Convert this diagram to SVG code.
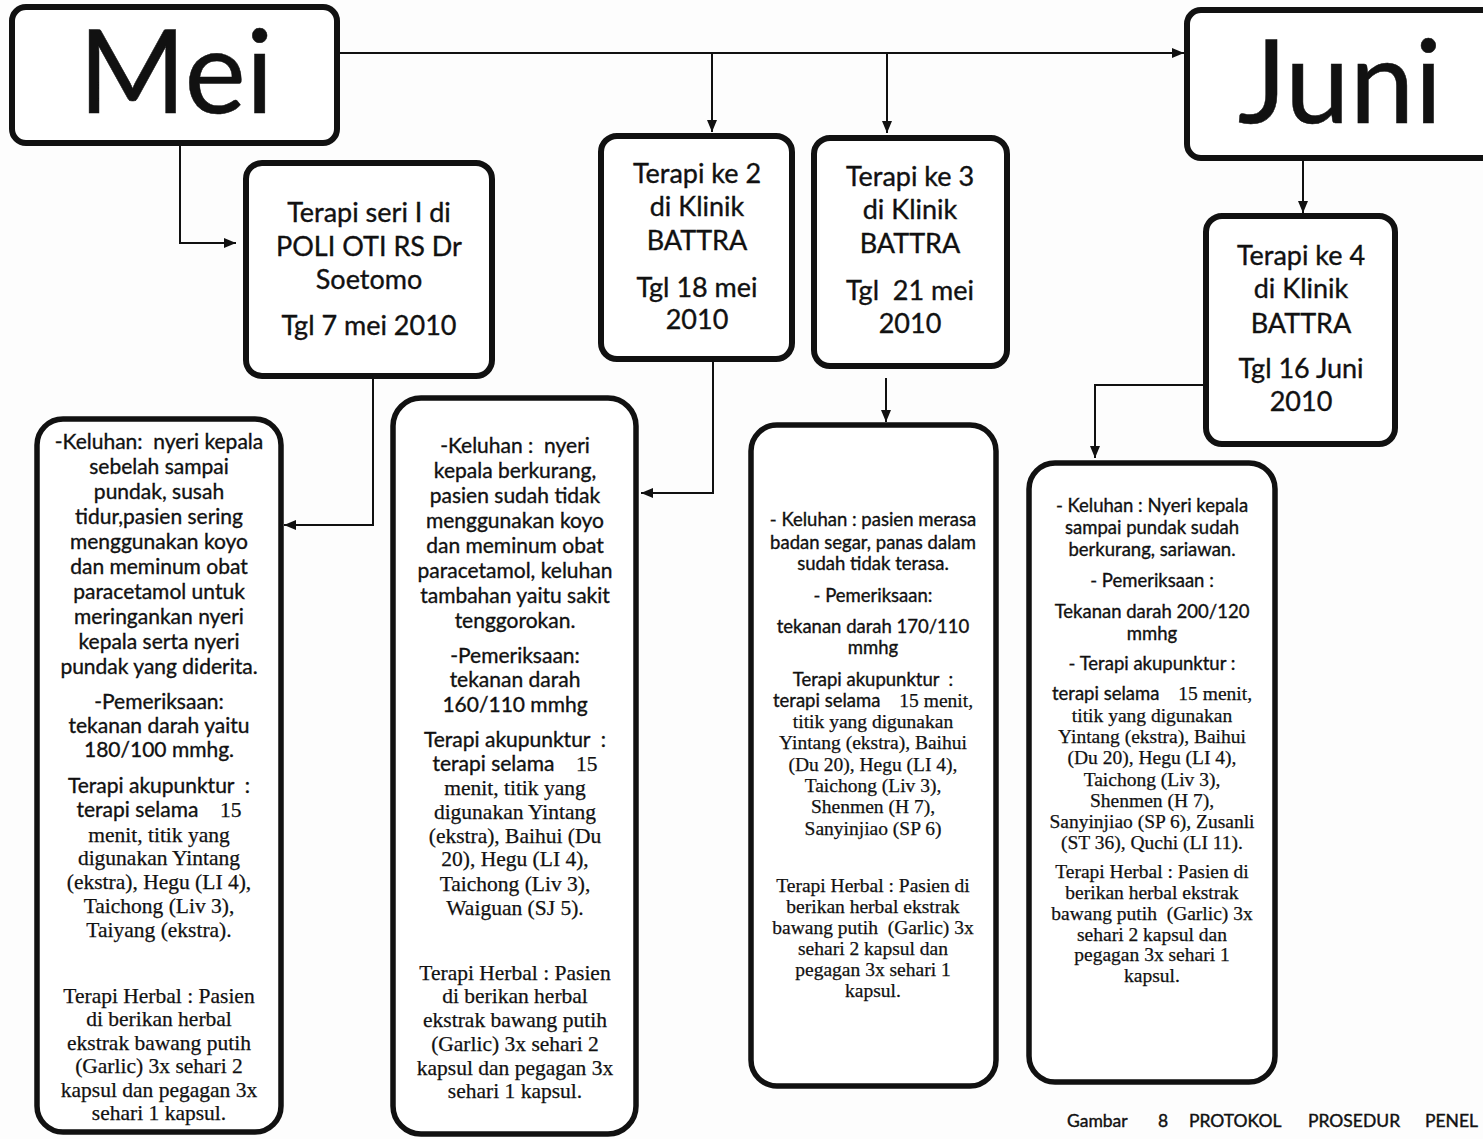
<svg xmlns="http://www.w3.org/2000/svg" width="1483" height="1139" viewBox="0 0 1483 1139">
<style>
.bg{fill:#fdfdfd}
.hbox{fill:#fff;stroke:#111;stroke-width:6}
.dbox{fill:#fff;stroke:#111;stroke-width:5.5}
.conn{fill:none;stroke:#111;stroke-width:2}
.s{font-family:Lato,"Liberation Sans",sans-serif;fill:#111;text-anchor:middle;white-space:pre;stroke:#111;stroke-width:0.35}
.r{font-family:"Liberation Serif",serif;fill:#111;text-anchor:middle;white-space:pre;stroke:#111;stroke-width:0.25}
.big{font-size:116px;stroke-width:0.5}
.h{font-size:27px}
.d1{font-size:21px}
.t1{font-size:21.5px}
.d3{font-size:18.5px}
.t3{font-size:19.5px}
.cap{font-family:Lato,"Liberation Sans",sans-serif;font-size:17.5px;fill:#111;stroke:#111;stroke-width:0.4}
</style>
<defs>
<marker id="ah" viewBox="0 0 12 10" refX="12" refY="5" markerWidth="12" markerHeight="10" markerUnits="userSpaceOnUse" orient="auto">
<path d="M0,0 L12,5 L0,10 z" fill="#111"/>
</marker>
</defs>
<rect class="bg" x="0" y="0" width="1483" height="1139"/>

<g id="connectors">
<path class="conn" d="M337,53 H1184" marker-end="url(#ah)"/>
<path class="conn" d="M712,53 V132" marker-end="url(#ah)"/>
<path class="conn" d="M887,53 V133" marker-end="url(#ah)"/>
<path class="conn" d="M180,143 V243 H236" marker-end="url(#ah)"/>
<path class="conn" d="M373,377 V525 H284" marker-end="url(#ah)"/>
<path class="conn" d="M713,360 V493 H641" marker-end="url(#ah)"/>
<path class="conn" d="M886,378 V422" marker-end="url(#ah)"/>
<path class="conn" d="M1303,158 V213" marker-end="url(#ah)"/>
<path class="conn" d="M1206,385 H1095 V458" marker-end="url(#ah)"/>
</g>

<g id="mei">
<rect class="hbox" x="12" y="7" width="325" height="136" rx="14"/>
<text class="s big" x="176" y="113">Mei</text>
</g>

<g id="juni">
<rect class="hbox" x="1187" y="10" width="320" height="148" rx="14"/>
<text class="s big" x="1340" y="123">Juni</text>
</g>

<g id="terapi1">
<rect class="hbox" x="246" y="163" width="246" height="213" rx="16"/>
<text class="s h"><tspan x="369" y="222">Terapi seri I di</tspan><tspan x="369" y="256">POLI OTI RS Dr</tspan><tspan x="369" y="289">Soetomo</tspan><tspan x="369" y="335">Tgl 7 mei 2010</tspan></text>
</g>

<g id="terapi2">
<rect class="hbox" x="601" y="136" width="191" height="223" rx="16"/>
<text class="s h"><tspan x="697" y="183">Terapi ke 2</tspan><tspan x="697" y="216">di Klinik</tspan><tspan x="697" y="250">BATTRA</tspan><tspan x="697" y="297">Tgl 18 mei</tspan><tspan x="697" y="329">2010</tspan></text>
</g>

<g id="terapi3">
<rect class="hbox" x="814" y="138" width="193" height="228" rx="16"/>
<text class="s h"><tspan x="910" y="186">Terapi ke 3</tspan><tspan x="910" y="219">di Klinik</tspan><tspan x="910" y="253">BATTRA</tspan><tspan x="910" y="300">Tgl  21 mei</tspan><tspan x="910" y="333">2010</tspan></text>
</g>

<g id="terapi4">
<rect class="hbox" x="1206" y="216" width="189" height="228" rx="16"/>
<text class="s h"><tspan x="1301" y="265">Terapi ke 4</tspan><tspan x="1301" y="298">di Klinik</tspan><tspan x="1301" y="333">BATTRA</tspan><tspan x="1301" y="378">Tgl 16 Juni</tspan><tspan x="1301" y="411">2010</tspan></text>
</g>

<g id="detail1">
<rect class="dbox" x="37" y="419" width="244" height="713" rx="26"/>
<text class="s d1"><tspan x="159" y="449">-Keluhan:  nyeri kepala</tspan><tspan x="159" y="474">sebelah sampai</tspan><tspan x="159" y="499">pundak, susah</tspan><tspan x="159" y="524">tidur,pasien sering</tspan><tspan x="159" y="549">menggunakan koyo</tspan><tspan x="159" y="574">dan meminum obat</tspan><tspan x="159" y="599">paracetamol untuk</tspan><tspan x="159" y="624">meringankan nyeri</tspan><tspan x="159" y="649">kepala serta nyeri</tspan><tspan x="159" y="674">pundak yang diderita.</tspan><tspan x="159" y="709">-Pemeriksaan:</tspan><tspan x="159" y="733">tekanan darah yaitu</tspan><tspan x="159" y="757">180/100 mmhg.</tspan><tspan x="159" y="793">Terapi akupunktur  :</tspan><tspan x="159" y="817">terapi selama    <tspan class="r t1">15</tspan></tspan></text>
<text class="r t1"><tspan x="159" y="842">menit, titik yang</tspan><tspan x="159" y="865">digunakan Yintang</tspan><tspan x="159" y="889">(ekstra), Hegu (LI 4),</tspan><tspan x="159" y="913">Taichong (Liv 3),</tspan><tspan x="159" y="937">Taiyang (ekstra).</tspan><tspan x="159" y="1003">Terapi Herbal : Pasien</tspan><tspan x="159" y="1026">di berikan herbal</tspan><tspan x="159" y="1050">ekstrak bawang putih</tspan><tspan x="159" y="1073">(Garlic) 3x sehari 2</tspan><tspan x="159" y="1097">kapsul dan pegagan 3x</tspan><tspan x="159" y="1120">sehari 1 kapsul.</tspan></text>
</g>

<g id="detail2">
<rect class="dbox" x="393" y="398" width="243" height="736" rx="28"/>
<text class="s d1"><tspan x="515" y="453">-Keluhan :  nyeri</tspan><tspan x="515" y="478">kepala berkurang,</tspan><tspan x="515" y="503">pasien sudah tidak</tspan><tspan x="515" y="528">menggunakan koyo</tspan><tspan x="515" y="553">dan meminum obat</tspan><tspan x="515" y="578">paracetamol, keluhan</tspan><tspan x="515" y="603">tambahan yaitu sakit</tspan><tspan x="515" y="628">tenggorokan.</tspan><tspan x="515" y="663">-Pemeriksaan:</tspan><tspan x="515" y="687">tekanan darah</tspan><tspan x="515" y="712">160/110 mmhg</tspan><tspan x="515" y="747">Terapi akupunktur  :</tspan><tspan x="515" y="771">terapi selama    <tspan class="r t1">15</tspan></tspan></text>
<text class="r t1"><tspan x="515" y="795">menit, titik yang</tspan><tspan x="515" y="819">digunakan Yintang</tspan><tspan x="515" y="843">(ekstra), Baihui (Du</tspan><tspan x="515" y="866">20), Hegu (LI 4),</tspan><tspan x="515" y="891">Taichong (Liv 3),</tspan><tspan x="515" y="915">Waiguan (SJ 5).</tspan><tspan x="515" y="980">Terapi Herbal : Pasien</tspan><tspan x="515" y="1003">di berikan herbal</tspan><tspan x="515" y="1027">ekstrak bawang putih</tspan><tspan x="515" y="1051">(Garlic) 3x sehari 2</tspan><tspan x="515" y="1075">kapsul dan pegagan 3x</tspan><tspan x="515" y="1098">sehari 1 kapsul.</tspan></text>
</g>

<g id="detail3">
<rect class="dbox" x="751" y="425" width="245" height="661" rx="26"/>
<text class="s d3"><tspan x="873" y="526">- Keluhan : pasien merasa</tspan><tspan x="873" y="549">badan segar, panas dalam</tspan><tspan x="873" y="570">sudah tidak terasa.</tspan><tspan x="873" y="602">- Pemeriksaan:</tspan><tspan x="873" y="633">tekanan darah 170/110</tspan><tspan x="873" y="654">mmhg</tspan><tspan x="873" y="686">Terapi akupunktur  :</tspan><tspan x="873" y="707">terapi selama    <tspan class="r t3">15 menit,</tspan></tspan></text>
<text class="r t3"><tspan x="873" y="728">titik yang digunakan</tspan><tspan x="873" y="749">Yintang (ekstra), Baihui</tspan><tspan x="873" y="771">(Du 20), Hegu (LI 4),</tspan><tspan x="873" y="792">Taichong (Liv 3),</tspan><tspan x="873" y="813">Shenmen (H 7),</tspan><tspan x="873" y="835">Sanyinjiao (SP 6)</tspan><tspan x="873" y="892">Terapi Herbal : Pasien di</tspan><tspan x="873" y="913">berikan herbal ekstrak</tspan><tspan x="873" y="934">bawang putih  (Garlic) 3x</tspan><tspan x="873" y="955">sehari 2 kapsul dan</tspan><tspan x="873" y="976">pegagan 3x sehari 1</tspan><tspan x="873" y="997">kapsul.</tspan></text>
</g>

<g id="detail4">
<rect class="dbox" x="1029" y="463" width="246" height="619" rx="26"/>
<text class="s d3"><tspan x="1152" y="512">- Keluhan : Nyeri kepala</tspan><tspan x="1152" y="534">sampai pundak sudah</tspan><tspan x="1152" y="556">berkurang, sariawan.</tspan><tspan x="1152" y="587">- Pemeriksaan :</tspan><tspan x="1152" y="618">Tekanan darah 200/120</tspan><tspan x="1152" y="640">mmhg</tspan><tspan x="1152" y="670">- Terapi akupunktur :</tspan><tspan x="1152" y="700">terapi selama    <tspan class="r t3">15 menit,</tspan></tspan></text>
<text class="r t3"><tspan x="1152" y="722">titik yang digunakan</tspan><tspan x="1152" y="743">Yintang (ekstra), Baihui</tspan><tspan x="1152" y="764">(Du 20), Hegu (LI 4),</tspan><tspan x="1152" y="786">Taichong (Liv 3),</tspan><tspan x="1152" y="807">Shenmen (H 7),</tspan><tspan x="1152" y="828">Sanyinjiao (SP 6), Zusanli</tspan><tspan x="1152" y="849">(ST 36), Quchi (LI 11).</tspan><tspan x="1152" y="878">Terapi Herbal : Pasien di</tspan><tspan x="1152" y="899">berikan herbal ekstrak</tspan><tspan x="1152" y="920">bawang putih  (Garlic) 3x</tspan><tspan x="1152" y="941">sehari 2 kapsul dan</tspan><tspan x="1152" y="961">pegagan 3x sehari 1</tspan><tspan x="1152" y="982">kapsul.</tspan></text>
</g>

<g id="caption">
<text class="cap"><tspan x="1067" y="1127">Gambar</tspan><tspan x="1158" y="1127">8</tspan><tspan x="1189" y="1127">PROTOKOL</tspan><tspan x="1308" y="1127">PROSEDUR</tspan><tspan x="1425" y="1127">PENEL</tspan></text>
</g>
</svg>
